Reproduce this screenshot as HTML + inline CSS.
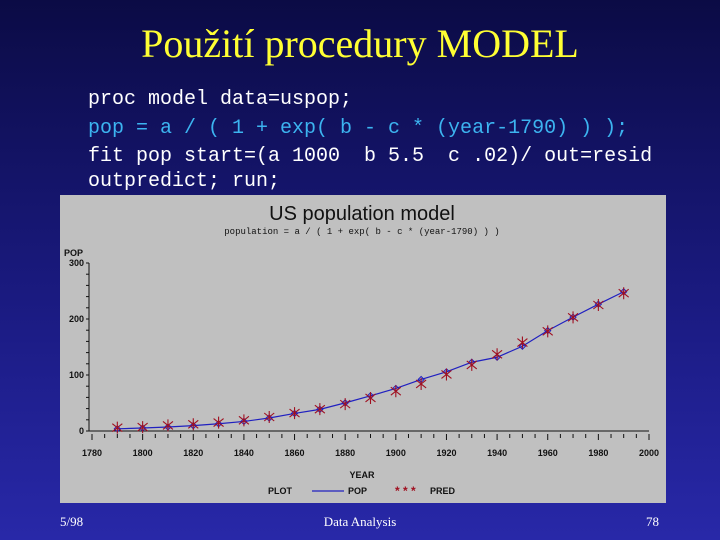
<!DOCTYPE html>
<html><head><meta charset="utf-8"><style>
body{margin:0;width:720px;height:540px;overflow:hidden;background:linear-gradient(180deg,#0b0b45 0%,#1a1a80 55%,#2828a8 100%);font-family:"Liberation Serif",serif;position:relative}
.t{position:absolute;margin:0}
#title{left:0;width:720px;top:20px;text-align:center;color:#ffff33;font-size:40px;font-family:"Liberation Serif",serif}
.code{left:88px;font-family:"Liberation Mono",monospace;font-size:20px;color:#fff;white-space:pre}
.foot{color:#fff;font-size:13px;top:514px}
</style></head><body>
<div class="t" id="title">Použití procedury MODEL</div>
<div class="t code" style="top:88px">proc model data=uspop;</div>
<div class="t code" style="top:117px;color:#3cb4f0">pop = a / ( 1 + exp( b - c * (year-1790) ) );</div>
<div class="t code" style="top:145px">fit pop start=(a 1000  b 5.5  c .02)/ out=resid</div>
<div class="t code" style="top:170px">outpredict; run;</div>
<svg id="chart" class="t" style="left:0;top:0" width="720" height="540">
<rect x="60" y="195" width="606" height="308" fill="#c0c0c0"/>
<text x="362" y="220" text-anchor="middle" font-family="Liberation Sans,sans-serif" font-size="20" fill="#111">US population model</text>
<text x="362" y="234" text-anchor="middle" font-family="Liberation Mono,monospace" font-size="9" fill="#111">population = a / ( 1 + exp( b - c * (year-1790) ) )</text>
<text x="64" y="256" font-family="Liberation Sans,sans-serif" font-size="9" font-weight="bold" fill="#111">POP</text>
<text x="362" y="478" text-anchor="middle" font-family="Liberation Sans,sans-serif" font-size="9" font-weight="bold" fill="#111">YEAR</text>
<g id="axes"></g><g id="marks"></g>
<g font-family="Liberation Sans,sans-serif" font-size="9" font-weight="bold" fill="#111">
<text x="268" y="494">PLOT</text>
<line x1="312" y1="491" x2="344" y2="491" stroke="#2020c0" stroke-width="1.2"/>
<text x="348" y="494">POP</text>
<text x="395" y="495" fill="#a01020" font-size="12">* * *</text>
<text x="430" y="494">PRED</text>
</g>
</svg>
<div class="t foot" style="left:60px">5/98</div>
<div class="t foot" style="left:0;width:720px;text-align:center">Data Analysis</div>
<div class="t foot" style="left:646px">78</div>
<script>
const years=[1790,1800,1810,1820,1830,1840,1850,1860,1870,1880,1890,1900,1910,1920,1930,1940,1950,1960,1970,1980,1990];
const popValues=[3.9,5.3,7.2,9.6,12.9,17.1,23.2,31.4,38.6,50.2,62.9,76.0,92.0,105.7,122.8,131.7,151.3,179.3,203.3,226.5,248.7];
const predValues=[6,7,10,12,15,19,25,32,39,48,59,71,84,101,118,137,158,178,203,225,246];
const xTicks=[1780,1800,1820,1840,1860,1880,1900,1920,1940,1960,1980,2000];
const yTicks=[0,100,200,300];
const NS='http://www.w3.org/2000/svg';
const X=v=>92+(v-1780)*(649-92)/220, Y=v=>431-v*0.56;
const ax=document.getElementById('axes'), mk=document.getElementById('marks');
function mkEl(t,a,p){const e=document.createElementNS(NS,t);for(const k in a)e.setAttribute(k,a[k]);p.appendChild(e);return e;}
let l=mkEl('line',{x1:89,y1:Y(300),x2:89,y2:431,stroke:'#111','stroke-width':1},ax);


l=mkEl('line',{x1:89,y1:431,x2:649,y2:431,stroke:'#111','stroke-width':1},ax);


for(let y=1780;y<=2000;y+=5){mkEl('line',{x1:X(y),y1:434,x2:X(y),y2:y%20==0?440:438,stroke:'#111'},ax);}
for(let v=0;v<=300;v+=20){mkEl('line',{x1:86,y1:Y(v),x2:89,y2:Y(v),stroke:'#111'},ax);}
xTicks.forEach(t=>{const e=mkEl('text',{x:X(t),y:456,'text-anchor':'middle','font-family':'Liberation Sans,sans-serif','font-size':9,'font-weight':'bold',fill:'#111'},ax);e.textContent=t;

});
yTicks.forEach(t=>{const e=mkEl('text',{x:84,y:Y(t)+3,'text-anchor':'end','font-family':'Liberation Sans,sans-serif','font-size':9,'font-weight':'bold',fill:'#111'},ax);e.textContent=t;

});
const pl=mkEl('polyline',{points:years.map((y,i)=>X(y)+','+Y(popValues[i])).join(' '),fill:'none',stroke:'#2020c0','stroke-width':1.2},mk);


years.forEach((y,i)=>{
const d=mkEl('path',{d:`M${X(y)-3},${Y(popValues[i])}l3,-3l3,3l-3,3z`,fill:'none',stroke:'#2020c0'},mk);


const cx=X(y),cy=Y(predValues[i]);
const s=mkEl('path',{d:`M${cx},${cy-6}v12M${cx-5},${cy-4}l10,8M${cx+5},${cy-4}l-10,8`,stroke:'#a01020','stroke-width':1.1},mk);


});
</script>
</body></html>
